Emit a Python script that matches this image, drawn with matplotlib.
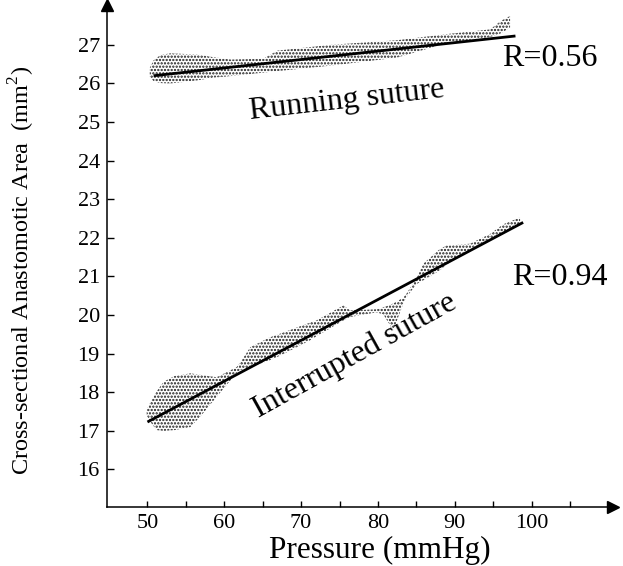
import numpy as np
import matplotlib
matplotlib.use("Agg")
import matplotlib.pyplot as plt

matplotlib.rc('font', family='Liberation Serif')
matplotlib.rcParams['hatch.linewidth'] = 1.1
matplotlib.rcParams['mathtext.fontset'] = 'custom'
matplotlib.rcParams['mathtext.rm'] = 'Liberation Serif'

# fitted lines (end points, pressure in mmHg -> area in mm^2)
run_x = [50.8, 97.9]
run_y = [26.2, 27.23]
int_x = [50.0, 98.9]
int_y = [17.23, 22.40]

# scatter envelopes (stippled bands)
run_band_x = [50.3, 50.8, 51.7, 53.0, 56.5, 58.6, 60.8, 65.1, 66.9, 73.8, 82.5, 89.0, 94.6, 96.0, 97.2]
run_band_hi = [26.40, 26.60, 26.74, 26.78, 26.75, 26.68, 26.62, 26.64, 26.85, 27.00, 27.12, 27.28, 27.40, 27.62, 27.75]
run_band_lo = [26.18, 26.06, 26.01, 26.00, 26.08, 26.15, 26.19, 26.28, 26.32, 26.46, 26.67, 27.05, 27.20, 27.30, 27.45]

int_band_x = [49.9, 50.5, 51.2, 52.1, 53.5, 55.6, 57.0, 59.0, 61.6, 62.0, 63.4, 65.9, 67.3, 71.1, 72.0, 75.5,
              76.4, 79.8, 80.7, 82.0, 83.3, 83.7, 85.0, 85.9, 88.0, 88.9, 91.0, 92.0, 94.6, 96.3, 98.5]
int_band_hi = [17.55, 17.79, 18.02, 18.27, 18.42, 18.49, 18.45, 18.39, 18.65, 18.75, 19.17, 19.42, 19.52, 19.80, 19.86, 20.25,
               20.12, 20.15, 20.20, 20.30, 20.45, 20.55, 20.95, 21.33, 21.70, 21.80, 21.83, 21.85, 22.10, 22.35, 22.53]
int_band_lo = [17.40, 17.20, 17.02, 17.00, 17.02, 17.10, 17.40, 17.88, 18.50, 18.57, 18.65, 18.83, 18.95, 19.34, 19.45, 19.86,
               19.95, 20.07, 20.02, 19.60, 20.30, 20.46, 20.80, 20.90, 21.15, 21.30, 21.60, 21.70, 21.98, 22.10, 22.37]

x_major = [50, 60, 70, 80, 90, 100]
x_minor = [55, 65, 75, 85, 95, 105]
y_ticks = list(range(16, 28))

fig = plt.figure(figsize=(6.23, 5.66), dpi=100)
ax = fig.add_axes([0.1713, 0.1037, 0.984 - 0.1713, 0.991 - 0.1037])

xmin, xmax = 44.7, 110.6
ymin, ymax = 15.02, 28.03
ax.set_xlim(xmin, xmax)
ax.set_ylim(ymin, ymax)

for bx, lo, hi in [(run_band_x, run_band_lo, run_band_hi), (int_band_x, int_band_lo, int_band_hi)]:
    ax.fill_between(bx, lo, hi, facecolor='none', edgecolor='0.1', hatch='.....', linewidth=0)

ax.plot(run_x, run_y, color='black', lw=2.0, solid_capstyle='butt')
ax.plot(int_x, int_y, color='black', lw=2.0, solid_capstyle='butt')

ax.text(76.0, 25.56, 'Running suture', fontsize=23, rotation=6.5, ha='center', va='center')
ax.text(77.0, 18.95, 'Interrupted suture', fontsize=23, rotation=29, ha='center', va='center',
        rotation_mode='anchor')
ax.text(96.2, 26.65, 'R=0.56', fontsize=23, ha='left', va='center')
ax.text(97.5, 20.98, 'R=0.94', fontsize=23, ha='left', va='center')

for s in ['top', 'right']:
    ax.spines[s].set_visible(False)
for s in ['left', 'bottom']:
    ax.spines[s].set_linewidth(1.1)

# arrow heads at the ends of the axes
ax.plot([xmax], [ymin], marker='>', color='black', markersize=9, clip_on=False)
ax.plot([xmin], [ymax], marker='^', color='black', markersize=9, clip_on=False)

ax.set_xticks(x_major)
ax.set_xticks(x_minor, minor=True)
ax.set_yticks(y_ticks)
ax.tick_params(axis='x', which='both', direction='in', length=4.5, width=1.0, labelsize=16, pad=5)
ax.tick_params(axis='y', which='both', direction='in', length=5, width=1.0, labelsize=16, pad=5)

ax.set_xlabel('Pressure (mmHg)', fontsize=22.5)
ax.xaxis.set_label_coords(0.54, -0.101)
ax.xaxis.label.set_va('baseline')
ax.set_ylabel('Cross-sectional Anastomotic Area  (mm$^2$)', fontsize=17.5)
ax.yaxis.set_label_coords(-0.137, 0.472)

fig.savefig('out.png', dpi=100)
